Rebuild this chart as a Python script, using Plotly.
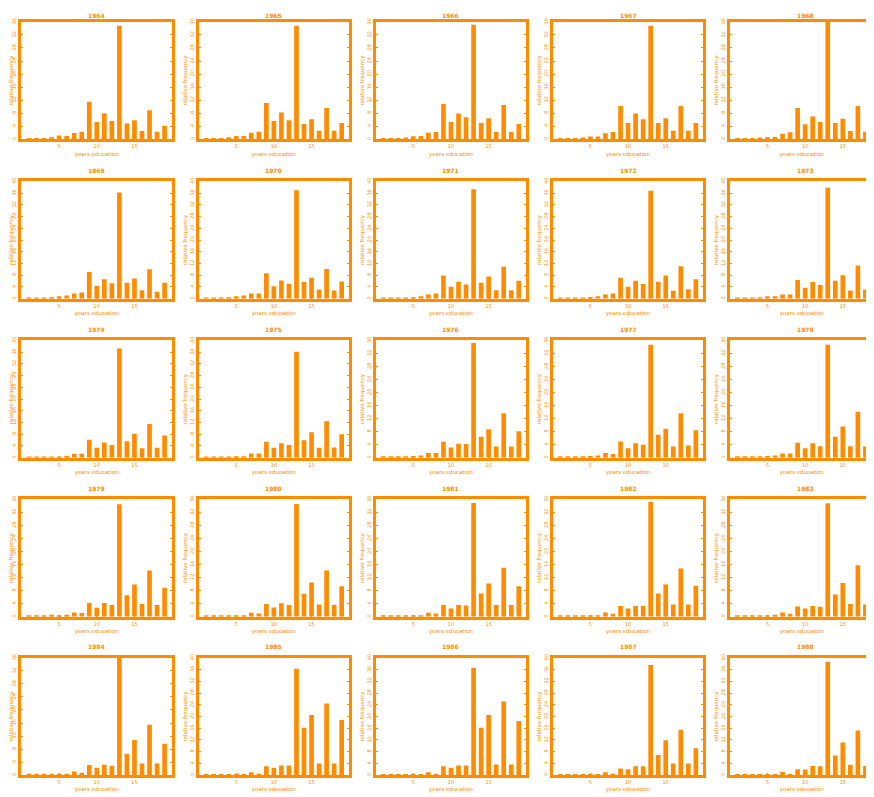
import plotly.graph_objects as go

# ---------------- data ----------------
educ_years = list(range(1, 20))
panel_years = [1964, 1965, 1966, 1967, 1968,
               1969, 1970, 1971, 1972, 1973,
               1974, 1975, 1976, 1977, 1978,
               1979, 1980, 1981, 1982, 1983,
               1984, 1985, 1986, 1987, 1988]

freq_1964 = [0.4, 0.4, 0.4, 0.6, 1.1, 1.0, 1.9, 2.3, 11.5, 5.3, 8.0, 5.6, 34.8, 4.8, 5.8, 2.5, 8.9, 2.3, 4.1]
freq_1965 = [0.4, 0.4, 0.4, 0.6, 1.0, 1.0, 2.0, 2.3, 11.1, 5.6, 8.2, 5.8, 34.8, 4.7, 6.1, 2.6, 9.6, 2.6, 5.0]
freq_1966 = [0.4, 0.4, 0.4, 0.5, 0.9, 1.0, 2.0, 2.2, 10.8, 5.3, 7.9, 6.7, 35.1, 5.0, 6.4, 2.3, 10.5, 2.3, 4.7]
freq_1967 = [0.3, 0.4, 0.4, 0.5, 0.8, 0.8, 1.8, 2.2, 10.2, 5.0, 7.9, 6.1, 34.8, 5.0, 6.4, 2.6, 10.2, 2.6, 5.0]
freq_1968 = [0.3, 0.3, 0.3, 0.5, 0.6, 0.7, 1.7, 2.1, 9.6, 4.6, 7.0, 5.3, 37.0, 5.0, 6.3, 2.5, 10.2, 2.3, 5.1]
freq_1969 = [0.4, 0.4, 0.4, 0.5, 0.8, 1.1, 1.8, 2.1, 9.1, 4.4, 6.6, 5.3, 36.2, 5.4, 6.9, 2.9, 10.0, 2.4, 5.4]
freq_1970 = [0.4, 0.4, 0.4, 0.5, 0.8, 1.1, 1.8, 1.8, 8.7, 4.2, 6.2, 5.1, 37.0, 5.7, 7.1, 3.1, 10.1, 2.8, 5.9]
freq_1971 = [0.4, 0.4, 0.4, 0.4, 0.5, 0.8, 1.4, 1.8, 7.9, 4.1, 5.8, 4.8, 37.3, 5.4, 7.6, 2.9, 10.9, 2.9, 6.1]
freq_1972 = [0.4, 0.4, 0.4, 0.4, 0.6, 0.8, 1.4, 1.8, 7.1, 4.1, 6.1, 5.0, 36.8, 5.8, 7.9, 2.7, 11.1, 3.2, 6.6]
freq_1973 = [0.4, 0.4, 0.4, 0.5, 0.8, 0.8, 1.4, 1.4, 6.4, 3.7, 5.7, 4.7, 37.8, 6.1, 8.0, 2.8, 11.3, 3.1, 7.1]
freq_1974 = [0.4, 0.4, 0.4, 0.4, 0.4, 0.6, 1.3, 1.3, 6.1, 3.4, 5.2, 4.3, 37.2, 5.6, 8.2, 3.2, 11.5, 3.4, 7.6]
freq_1975 = [0.4, 0.4, 0.4, 0.4, 0.5, 0.5, 1.4, 1.4, 5.4, 3.4, 4.9, 4.3, 36.1, 5.9, 8.7, 3.4, 12.4, 3.5, 8.0]
freq_1976 = [0.4, 0.4, 0.4, 0.4, 0.5, 0.7, 1.4, 1.4, 4.9, 3.1, 4.3, 4.2, 35.2, 6.4, 8.7, 3.4, 13.6, 3.4, 8.1]
freq_1977 = [0.4, 0.4, 0.4, 0.4, 0.5, 0.7, 1.4, 1.1, 5.0, 2.9, 4.4, 4.0, 34.7, 7.0, 8.9, 3.4, 13.6, 3.7, 8.4]
freq_1978 = [0.4, 0.4, 0.4, 0.4, 0.5, 0.7, 1.3, 1.3, 4.6, 2.9, 4.4, 3.5, 34.7, 6.4, 9.6, 3.5, 14.1, 3.4, 8.7]
freq_1979 = [0.4, 0.4, 0.4, 0.6, 0.4, 0.6, 1.3, 1.1, 4.2, 2.7, 4.2, 3.6, 34.5, 6.6, 9.9, 3.9, 14.2, 3.6, 8.9]
freq_1980 = [0.4, 0.4, 0.4, 0.4, 0.4, 0.4, 1.2, 1.0, 3.9, 2.8, 4.1, 3.6, 34.6, 7.0, 10.5, 3.7, 14.2, 3.6, 9.3]
freq_1981 = [0.4, 0.4, 0.4, 0.4, 0.4, 0.4, 1.2, 1.0, 3.6, 2.5, 3.6, 3.4, 34.9, 7.1, 10.2, 3.6, 15.0, 3.6, 9.3]
freq_1982 = [0.4, 0.4, 0.4, 0.4, 0.4, 0.4, 1.3, 0.9, 3.3, 2.5, 3.3, 3.3, 35.3, 7.1, 9.9, 3.7, 14.8, 3.7, 9.5]
freq_1983 = [0.4, 0.4, 0.4, 0.4, 0.4, 0.6, 1.3, 0.9, 3.1, 2.5, 3.3, 3.0, 34.8, 6.8, 10.3, 3.9, 15.8, 3.7, 10.1]
freq_1984 = [0.4, 0.4, 0.4, 0.4, 0.4, 0.4, 1.1, 0.7, 3.1, 2.3, 3.2, 2.9, 38.0, 6.6, 10.8, 3.6, 15.5, 3.6, 9.6]
freq_1985 = [0.3, 0.3, 0.3, 0.3, 0.3, 0.3, 1.0, 0.5, 3.0, 2.5, 3.3, 3.3, 36.3, 16.2, 20.5, 4.0, 24.4, 4.0, 18.8]
freq_1986 = [0.3, 0.3, 0.3, 0.3, 0.3, 0.3, 1.0, 0.5, 3.0, 2.5, 3.3, 3.3, 36.6, 16.2, 20.5, 3.6, 25.1, 3.6, 18.5]
freq_1987 = [0.3, 0.3, 0.3, 0.3, 0.3, 0.3, 1.0, 0.5, 2.3, 2.0, 3.0, 3.0, 37.6, 6.9, 11.9, 4.0, 15.5, 4.0, 9.2]
freq_1988 = [0.3, 0.3, 0.3, 0.3, 0.3, 0.3, 1.1, 0.4, 2.0, 1.9, 3.1, 3.0, 38.7, 6.7, 11.1, 3.5, 15.2, 3.1, 8.5]

panel_freqs = [freq_1964, freq_1965, freq_1966, freq_1967, freq_1968,
               freq_1969, freq_1970, freq_1971, freq_1972, freq_1973,
               freq_1974, freq_1975, freq_1976, freq_1977, freq_1978,
               freq_1979, freq_1980, freq_1981, freq_1982, freq_1983,
               freq_1984, freq_1985, freq_1986, freq_1987, freq_1988]

y_axis_top = [36, 36, 36, 36, 36,
              40, 40, 40, 40, 40,
              40, 40, 36, 36, 36,
              36, 36, 36, 36, 36,
              36, 40, 40, 40, 40]
y_tick_step = 4
x_tick_vals = [5, 10, 15]

# ---------------- layout geometry ----------------
OFF = 8                      # page body margin
W, H = 874 - OFF, 797 - OFF  # figure fills the window exactly
ORANGE = "#ff8c00"
LW = 3
col_left = [18 + 177.5 * c - OFF for c in range(5)]   # frame line centres
row_top = [16.5 - OFF, 177 - OFF, 337 - OFF, 497 - OFF, 656.5 - OFF]
frame_w = 154
frame_h = 121
x_full = 20.0

fig = go.Figure()
layout = dict(
    width=W, height=H,
    margin=dict(l=0, r=0, t=0, b=0),
    paper_bgcolor="white", plot_bgcolor="white",
    showlegend=False,
    font=dict(family="DejaVu Sans", size=5, color=ORANGE),
    annotations=[],
)

for i, (yr, freqs) in enumerate(zip(panel_years, panel_freqs)):
    r, c = divmod(i, 5)
    n = i + 1
    xa = "x" if n == 1 else f"x{n}"
    ya = "y" if n == 1 else f"y{n}"
    fig.add_trace(go.Bar(x=educ_years, y=freqs, xaxis=xa, yaxis=ya,
                         marker=dict(color=ORANGE, line=dict(width=0)),
                         width=0.62, hoverinfo="skip"))
    pl = col_left[c] + LW / 2
    pr = col_left[c] + frame_w - LW / 2
    clipped = pr > W
    pr_eff = min(pr, W)
    xmax = x_full * (pr_eff - pl) / (pr - pl)
    pt = row_top[r] + LW / 2
    pb = row_top[r] + frame_h - LW / 2
    top = y_axis_top[i]
    xkey = "xaxis" if n == 1 else f"xaxis{n}"
    ykey = "yaxis" if n == 1 else f"yaxis{n}"
    layout[xkey] = dict(
        domain=[pl / W, pr_eff / W], anchor=ya, range=[0, xmax],
        showgrid=False, zeroline=False,
        showline=True, linewidth=LW, linecolor=ORANGE, mirror=True,
        ticks="inside", ticklen=2, tickwidth=1, tickcolor=ORANGE,
        tickvals=x_tick_vals, ticktext=[str(v) for v in x_tick_vals],
        tickfont=dict(size=5, color=ORANGE),
        title=dict(text="years education", font=dict(size=5.5, color=ORANGE), standoff=4),
        fixedrange=True,
    )
    yt = list(range(0, top + 1, y_tick_step))
    layout[ykey] = dict(
        domain=[1 - pb / H, 1 - pt / H], anchor=xa, range=[0, top],
        showgrid=False, zeroline=False,
        showline=True, linewidth=LW, linecolor=ORANGE,
        mirror=(False if clipped else "ticks"),
        ticks="inside", ticklen=2, tickwidth=1, tickcolor=ORANGE,
        tickvals=yt, ticktext=[str(v) for v in yt], tickangle=-90,
        tickfont=dict(size=5, color=ORANGE),
        title=dict(text="relative frequency", font=dict(size=5.5, color=ORANGE), standoff=0),
        fixedrange=True,
    )
    title_mid = max(row_top[r] - 9.5, 4.0)
    layout["annotations"].append(dict(
        text=f"<b>{yr}</b>", xref="paper", yref="paper",
        x=(col_left[c] + frame_w / 2) / W, y=1 - title_mid / H,
        xanchor="center", yanchor="middle", showarrow=False,
        font=dict(size=6, color=ORANGE),
    ))

fig.update_layout(**layout)
fig.write_html("out.html", config={"displayModeBar": False})
